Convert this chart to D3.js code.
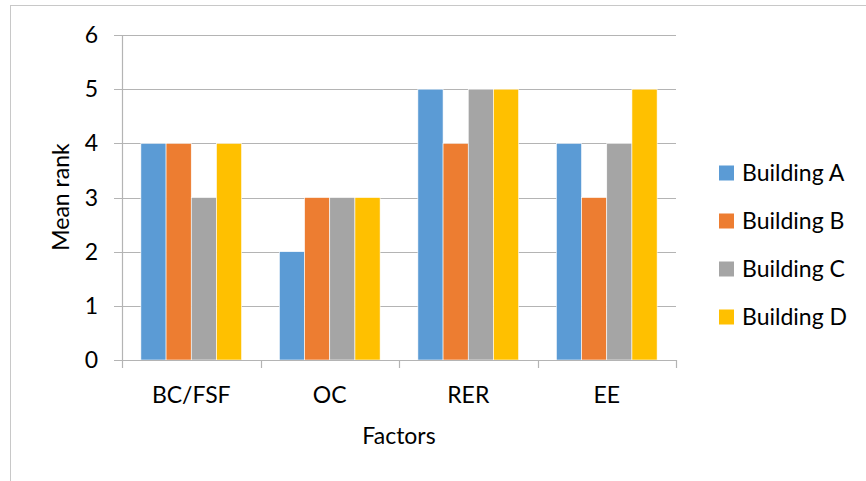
<!DOCTYPE html>
<html>
<head>
<meta charset="utf-8">
<script src="https://cdn.jsdelivr.net/npm/d3@7"></script>
<style>
  body { margin: 0; background: #fff; }
  text { font-family: Lato, "Open Sans", sans-serif; fill: #000; }
</style>
</head>
<body>
<script>
// chart data
var factors = ['BC/FSF', 'OC', 'RER', 'EE'];
var buildings = ['Building A', 'Building B', 'Building C', 'Building D'];
var buildingA = [4, 2, 5, 4];
var buildingB = [4, 3, 4, 3];
var buildingC = [3, 3, 5, 4];
var buildingD = [4, 3, 5, 5];
var yTicks = [0, 1, 2, 3, 4, 5, 6];
var colours = ['#5B9BD5', '#ED7D31', '#A5A5A5', '#FFC000'];

var series = [buildingA, buildingB, buildingC, buildingD];

var width = 866, height = 481;
var margin = { top: 35, left: 122, right: 190, bottom: 121 };
var font_size = 23;

var svg = d3.select('body').append('svg')
  .attr('width', width)
  .attr('height', height);

// outer chart frame (runs off the right and bottom of the picture)
svg.append('rect')
  .attr('x', 10.5).attr('y', 5.5)
  .attr('width', 1000).attr('height', 1000)
  .attr('fill', 'none')
  .attr('stroke', '#c8c8c8');

var x0 = d3.scaleBand()
  .domain(factors)
  .range([margin.left, width - margin.right]);
// gap width of 150% -> inner padding of 1.5 bar widths split on both sides
var x1 = d3.scaleBand()
  .domain(buildings)
  .range([0, x0.bandwidth()])
  .paddingOuter(0.75);
var y = d3.scaleLinear()
  .domain([0, 6])
  .range([height - margin.bottom, margin.top]);

// gridlines with the outward tick marks
svg.append('g')
  .selectAll('line')
  .data(yTicks)
  .join('line')
  .attr('x1', margin.left - 8)
  .attr('x2', width - margin.right)
  .attr('y1', function (d) { return Math.round(y(d)) + 0.5; })
  .attr('y2', function (d) { return Math.round(y(d)) + 0.5; })
  .attr('stroke', '#b4b4b4')
  .attr('stroke-width', 1.2);

// y tick labels
svg.append('g')
  .selectAll('text')
  .data(yTicks)
  .join('text')
  .attr('x', 98)
  .attr('y', function (d) { return y(d); })
  .attr('dy', '0.35em')
  .attr('text-anchor', 'end')
  .attr('font-size', font_size)
  .text(function (d) { return d; });

// bars
var groups = svg.append('g')
  .selectAll('g')
  .data(factors)
  .join('g')
  .attr('transform', function (d) { return 'translate(' + x0(d) + ',0)'; });

groups.selectAll('rect')
  .data(function (d, i) {
    return buildings.map(function (b, j) { return { key: b, value: series[j][i], colour: colours[j] }; });
  })
  .join('rect')
  .attr('x', function (d) { return x1(d.key); })
  .attr('width', x1.bandwidth())
  .attr('y', function (d) { return y(d.value); })
  .attr('height', function (d) { return y(0) - y(d.value); })
  .attr('fill', function (d) { return d.colour; })
  .attr('stroke', '#fff')
  .attr('stroke-width', 0.6);

// y axis line
svg.append('line')
  .attr('x1', margin.left + 0.5).attr('x2', margin.left + 0.5)
  .attr('y1', margin.top).attr('y2', y(0))
  .attr('stroke', '#b4b4b4')
  .attr('stroke-width', 1.2);

// x axis line and category ticks
svg.append('line')
  .attr('x1', margin.left).attr('x2', width - margin.right)
  .attr('y1', Math.round(y(0)) + 0.5).attr('y2', Math.round(y(0)) + 0.5)
  .attr('stroke', '#b4b4b4')
  .attr('stroke-width', 1.2);
var edges = factors.map(function (f) { return x0(f); }).concat([width - margin.right]);
svg.append('g')
  .selectAll('line')
  .data(edges)
  .join('line')
  .attr('x1', function (d) { return Math.round(d) + 0.5; })
  .attr('x2', function (d) { return Math.round(d) + 0.5; })
  .attr('y1', y(0)).attr('y2', y(0) + 8)
  .attr('stroke', '#b4b4b4')
  .attr('stroke-width', 1.2);

// category labels
svg.append('g')
  .selectAll('text')
  .data(factors)
  .join('text')
  .attr('x', function (d) { return x0(d) + x0.bandwidth() / 2; })
  .attr('y', 403)
  .attr('text-anchor', 'middle')
  .attr('font-size', font_size)
  .text(function (d) { return d; });

// axis titles
svg.append('text')
  .attr('x', (margin.left + width - margin.right) / 2)
  .attr('y', 444)
  .attr('text-anchor', 'middle')
  .attr('font-size', font_size)
  .text('Factors');

svg.append('text')
  .attr('transform', 'translate(69,' + 197 + ') rotate(-90)')
  .attr('text-anchor', 'middle')
  .attr('font-size', font_size)
  .text('Mean rank');

// legend
var legend = svg.append('g')
  .selectAll('g')
  .data(buildings)
  .join('g')
  .attr('transform', function (d, i) { return 'translate(719,' + (173 + i * 48) + ')'; });
legend.append('rect')
  .attr('x', 0).attr('y', -7.5)
  .attr('width', 15).attr('height', 15)
  .attr('fill', function (d, i) { return colours[i]; });
legend.append('text')
  .attr('x', 23)
  .attr('y', 8)
  .attr('font-size', font_size)
  .text(function (d) { return d; });
</script>
</body>
</html>
